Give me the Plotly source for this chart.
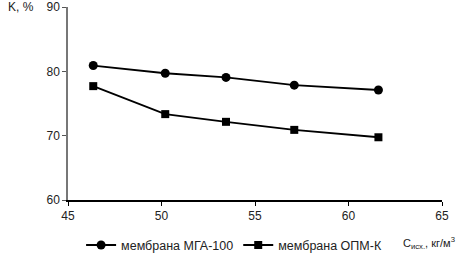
import plotly.graph_objects as go

x_vals = [46.35, 50.2, 53.45, 57.1, 61.6]
mga100 = [80.9, 79.7, 79.05, 77.85, 77.1]
opmk = [77.7, 73.35, 72.15, 70.9, 69.75]
names = ["мембрана МГА-100", "мембрана ОПМ-К"]
x_ticks = [45, 50, 55, 60, 65]
y_ticks = [60, 70, 80, 90]

fig = go.Figure()
fig.add_trace(go.Scatter(x=x_vals, y=mga100, name=names[0], mode="lines+markers",
                         line=dict(color="black", width=1.8),
                         marker=dict(symbol="circle", size=9, color="black")))
fig.add_trace(go.Scatter(x=x_vals, y=opmk, name=names[1], mode="lines+markers",
                         line=dict(color="black", width=1.8),
                         marker=dict(symbol="square", size=8, color="black")))

font = dict(family="Liberation Sans, Arial", size=12, color="#222")
fig.update_layout(
    width=460, height=258,
    margin=dict(l=68, r=18, t=6.5, b=58, autoexpand=False),
    paper_bgcolor="white", plot_bgcolor="white",
    font=font,
    showlegend=True,
    legend=dict(orientation="h", x=0.035, xref="paper", y=0.107, yref="container",
                yanchor="top", xanchor="left", font=dict(size=12.5, color="#222"),
                itemwidth=30, tracegroupgap=0, bgcolor="rgba(0,0,0,0)"),
    xaxis=dict(range=[45, 65], tickvals=x_ticks, showgrid=False, zeroline=False,
               showline=True, linecolor="black", linewidth=1.5, ticks="outside",
               ticklen=4, tickcolor="black", tickfont=font),
    yaxis=dict(range=[60, 90], tickvals=y_ticks, showgrid=False, zeroline=False,
               showline=True, linecolor="#777", linewidth=1.5, ticks="outside",
               ticklen=4, tickcolor="#555", tickfont=font),
)
fig.add_annotation(text="K, %", xref="paper", yref="paper", x=-0.165, y=1.0,
                   xanchor="left", yanchor="middle", showarrow=False, font=font)
fig.add_annotation(text="C<sub>исх.</sub>, кг/м<sup>3</sup>", xref="paper", yref="paper",
                   x=0.89, y=-0.17, xanchor="left", yanchor="top", showarrow=False,
                   font=dict(family="Liberation Sans, Arial", size=11, color="#222"))
fig.write_html("out.html", config={"displayModeBar": False},
               post_script="document.body.style.margin='0';")
